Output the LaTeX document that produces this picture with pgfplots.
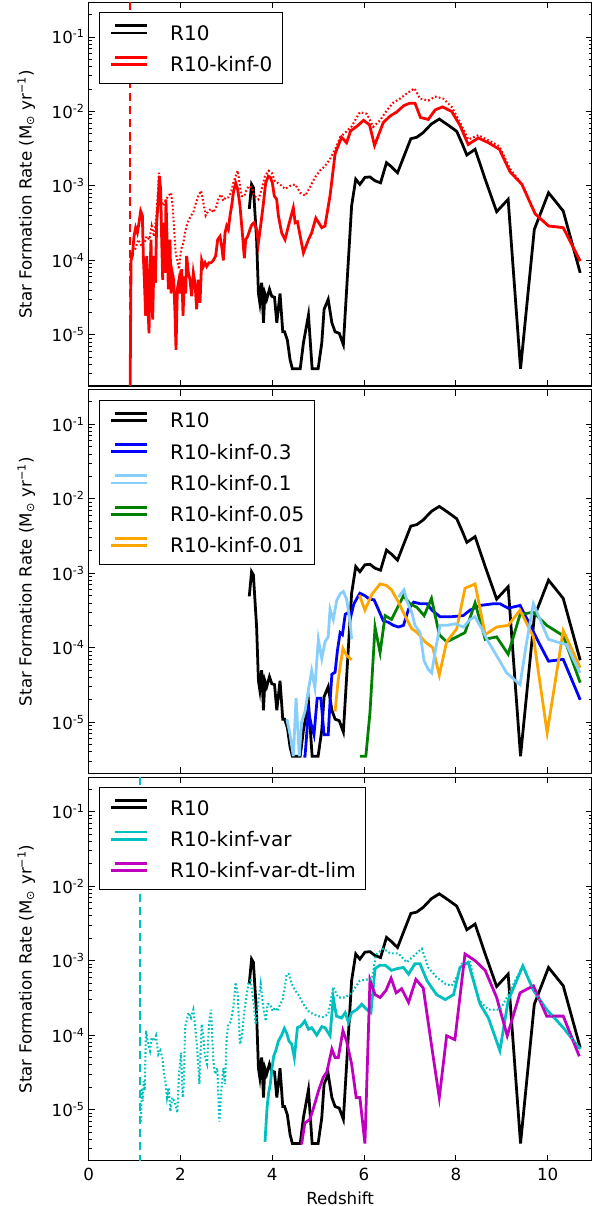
\documentclass[border=0pt]{standalone}
\usepackage{fontspec}
\setmainfont{DejaVu Sans}
\usepackage{pgfplots}
\pgfplotsset{compat=1.18}
\definecolor{lblue}{RGB}{135,206,250}
\definecolor{mgreen}{RGB}{0,128,0}
\definecolor{morange}{RGB}{255,165,0}
\definecolor{mcyan}{RGB}{0,191,191}
\definecolor{mmag}{RGB}{191,0,191}
\tikzset{
 sl/.style={line width=2pt},
 dl/.style={line width=1.5pt, dash pattern=on 1.2pt off 1.6pt},
 vl/.style={line width=2pt, dash pattern=on 6pt off 3.4pt},
}
\pgfplotsset{
 every axis/.append style={
  scale only axis, width=362.2pt, height=276.1pt,
  xmin=0, xmax=10.96, ymin=2.06e-6, ymax=0.29,
  xtick={0,2,4,6,8,10},
  ytick={1e-5,1e-4,1e-3,1e-2,1e-1},
  yticklabels={10\textsuperscript{-5},10\textsuperscript{-4},10\textsuperscript{-3},10\textsuperscript{-2},10\textsuperscript{-1}},
  minor ytick={3e-6,4e-6,5e-6,6e-6,7e-6,8e-6,9e-6,
   2e-5,3e-5,4e-5,5e-5,6e-5,7e-5,8e-5,9e-5,
   2e-4,3e-4,4e-4,5e-4,6e-4,7e-4,8e-4,9e-4,
   2e-3,3e-3,4e-3,5e-3,6e-3,7e-3,8e-3,9e-3,
   2e-2,3e-2,4e-2,5e-2,6e-2,7e-2,8e-2,9e-2,2e-1},
  tick align=inside,
  major tick length=4.3pt, minor tick length=2.2pt,
  every tick/.style={black, line width=0.6pt},
  axis line style={line width=0.8pt},
  ticklabel style={font=\fontsize{12}{14}\selectfont},
  yticklabel style={inner sep=0pt, anchor=east, xshift=-2.6pt},
  xticklabel style={inner sep=0pt, anchor=north, yshift=-5.3pt},
  ylabel={Star Formation Rate (M\textsubscript{⊙} yr\textsuperscript{−1})},
  ylabel style={font=\fontsize{12}{14}\selectfont, at={(axis description cs:-0.142,0.5)}, anchor=north, inner sep=0pt},
  legend cell align=left,
  legend style={at={(axis description cs:0,1)}, anchor=north west, xshift=7.5pt, yshift=-7pt,
   draw=black, line width=0.8pt, fill=white, inner xsep=7.2pt, inner ysep=8.4pt,
   row sep=11.1pt, column sep=15.8pt,
   font=\fontsize{14.4}{17}\selectfont,
   nodes={inner sep=0pt, text height=10.5pt, text depth=0pt}},
  legend image code/.code={\path (0pt,0pt) -- (25.8pt,0pt); \draw[##1] (2.8pt,5.2pt) -- (25.8pt,5.2pt);},
 },
}
\begin{document}
\begin{tikzpicture}
% ---------------- panel 1 ----------------
\begin{semilogyaxis}[at={(0pt,557.8pt)}, anchor=south west, xticklabels={}]
\addplot[black, sl] coordinates {
(3.50,4.9e-4)(3.55,1.05e-3)(3.59,9.5e-4)(3.66,1.9e-4)(3.70,3.6e-5)(3.73,2.7e-5)(3.77,5.0e-5)(3.81,1.45e-5)
(3.84,3.6e-5)(3.88,3.0e-5)(3.94,4.1e-5)(3.99,3.3e-5)(4.05,3.2e-5)(4.10,1.45e-5)(4.17,3.6e-5)(4.23,1.1e-5)
(4.27,1.1e-5)(4.33,8.5e-6)(4.39,4.6e-6)(4.44,3.5e-6)(4.53,3.5e-6)(4.61,3.5e-6)(4.68,7.8e-6)(4.79,1.85e-5)
(4.87,3.5e-6)(5.00,3.5e-6)(5.08,7.8e-6)(5.13,2.2e-5)(5.22,3.0e-5)(5.30,1.45e-5)(5.37,1.1e-5)(5.46,1.05e-5)
(5.55,7.4e-6)(5.73,5.4e-4)(5.82,1.23e-3)(5.91,1.05e-3)(6.02,1.3e-3)(6.13,1.32e-3)(6.24,1.17e-3)(6.36,1.1e-3)
(6.49,2.05e-3)(6.60,1.8e-3)(6.73,1.5e-3)(6.87,2.5e-3)(7.02,4.3e-3)(7.15,4.5e-3)(7.29,5.2e-3)(7.47,6.8e-3)
(7.64,7.9e-3)(7.84,6.5e-3)(8.02,5.4e-3)(8.13,3.8e-3)(8.24,2.6e-3)(8.42,3.1e-3)(8.64,1.23e-3)(8.89,4.5e-4)
(9.14,6.6e-4)(9.41,3.5e-6)(9.71,2.6e-4)(10.02,8.1e-4)(10.34,4.6e-4)(10.71,6.8e-5)};
\addlegendentry{R10}
\addplot[red, sl] coordinates {
(0.902,1e-6)(0.924,1.0e-4)(0.953,1.15e-4)(0.989,2.1e-4)(1.025,2.75e-4)(1.062,2.35e-4)(1.098,3.2e-4)(1.134,4.6e-4)
(1.171,4.0e-4)(1.192,1.15e-4)(1.214,5.5e-5)(1.243,1.8e-5)(1.265,1.15e-4)(1.287,3.0e-5)(1.316,1.05e-5)(1.338,6.8e-5)
(1.359,1.9e-4)(1.396,1.6e-5)(1.425,1.15e-4)(1.454,5.0e-5)(1.483,3.2e-4)(1.519,6.6e-4)(1.541,1.35e-3)(1.570,9.0e-4)
(1.592,1.9e-4)(1.614,5.5e-5)(1.643,3.2e-4)(1.664,6.8e-5)(1.686,6.6e-4)(1.715,1.4e-4)(1.737,4.1e-5)(1.773,1.9e-4)
(1.795,3.6e-5)(1.824,6.8e-5)(1.853,5.5e-5)(1.882,1.95e-5)(1.904,6.3e-6)(1.933,4.1e-5)(1.969,5.5e-5)(1.998,3.6e-5)
(2.028,7.6e-5)(2.057,1.8e-5)(2.086,6.1e-5)(2.115,3.6e-5)(2.136,1.15e-4)(2.173,6.8e-5)(2.209,5.5e-5)(2.245,3.3e-5)
(2.282,6.8e-5)(2.318,5.0e-5)(2.354,2.2e-5)(2.391,5.5e-5)(2.427,2.7e-5)(2.463,1.0e-4)(2.500,8.3e-5)(2.536,9.3e-5)
(2.572,8.3e-5)(2.623,9.3e-5)(2.667,9.3e-5)(2.717,1.0e-4)(2.768,1.15e-4)(2.812,1.9e-4)(2.863,2.1e-4)(2.899,1.55e-4)
(2.935,1.0e-4)(2.972,2.35e-4)(3.008,2.9e-4)(3.044,2.6e-4)(3.081,4.0e-4)(3.117,5.4e-4)(3.153,8.1e-4)(3.204,1.1e-3)
(3.248,9.0e-4)(3.298,5.4e-4)(3.349,2.35e-4)(3.393,1.07e-4)(3.422,1.9e-4)(3.465,2.1e-4)(3.516,2.6e-4)(3.553,3.0e-4)
(3.603,3.2e-4)(3.661,2.6e-4)(3.698,1.7e-4)(3.756,3.2e-4)(3.807,5.7e-4)(3.858,1.1e-3)(3.916,1.35e-3)(3.959,1.3e-3)
(4.003,1.1e-3)(4.046,7.3e-4)(4.097,6.6e-4)(4.134,4.0e-4)(4.206,2.35e-4)(4.279,1.9e-4)(4.36,3.0e-4)(4.46,5.1e-4)
(4.50,3.2e-4)(4.55,3.3e-4)(4.68,1.26e-4)(4.79,1.9e-4)(4.86,2.35e-4)(4.95,3.7e-4)(5.08,2.75e-4)(5.15,2.9e-4)
(5.26,7.4e-4)(5.37,2.7e-3)(5.51,4.5e-3)(5.62,3.8e-3)(5.71,5.5e-3)(5.83,6.2e-3)(5.99,7.6e-3)(6.12,6.6e-3)
(6.23,3.5e-3)(6.42,7.1e-3)(6.57,8.7e-3)(6.71,9.8e-3)(6.87,1.2e-2)(7.00,1.29e-2)(7.11,1.29e-2)(7.23,8.3e-3)
(7.40,7.8e-3)(7.55,1.05e-2)(7.71,1.15e-2)(7.91,1.0e-2)(8.09,6.5e-3)(8.27,3.6e-3)(8.49,4.4e-3)(8.71,3.8e-3)
(8.95,3.1e-3)(9.18,1.55e-3)(9.44,1.05e-3)(9.73,4.2e-4)(10.02,2.9e-4)(10.34,2.75e-4)(10.71,9.8e-5)};
\addlegendentry{R10-kinf-0}
\addplot[red, dl, forget plot] coordinates {
(1.011,1.4e-4)(1.084,1.9e-4)(1.156,1.55e-4)(1.214,1.7e-4)(1.265,2.1e-4)(1.323,1.9e-4)(1.374,2.9e-4)(1.425,2.1e-4)
(1.483,4.4e-4)(1.534,1.5e-3)(1.577,6.6e-4)(1.628,5.4e-4)(1.686,6.6e-4)(1.737,7.3e-4)(1.795,8.1e-4)(1.831,5.4e-4)
(1.868,2.35e-4)(1.897,1.25e-4)(1.933,1.0e-4)(1.969,7.6e-5)(2.013,1.4e-4)(2.064,1.7e-4)(2.100,2.35e-4)(2.136,2.9e-4)
(2.187,3.55e-4)(2.231,4.0e-4)(2.282,4.4e-4)(2.318,5.4e-4)(2.391,7.3e-4)(2.449,8.6e-4)(2.500,6.0e-4)(2.550,4.0e-4)
(2.608,4.6e-4)(2.667,4.9e-4)(2.717,4.4e-4)(2.790,5.4e-4)(2.826,6.6e-4)(2.884,7.7e-4)(2.935,6.3e-4)(2.986,7.0e-4)
(3.044,7.0e-4)(3.102,8.1e-4)(3.153,1.1e-3)(3.204,1.35e-3)(3.248,1.6e-3)(3.298,1.0e-3)(3.335,7.3e-4)(3.393,7.3e-4)
(3.444,9.0e-4)(3.495,1.0e-3)(3.553,9.5e-4)(3.611,7.3e-4)(3.70,6.6e-4)(3.77,9.0e-4)(3.84,1.35e-3)(3.92,1.6e-3)
(3.99,1.5e-3)(4.06,1.15e-3)(4.17,1.05e-3)(4.28,9.1e-4)(4.39,1.0e-3)(4.50,1.05e-3)(4.61,8.1e-4)(4.72,7.4e-4)
(4.82,9.5e-4)(4.93,1.3e-3)(5.04,1.6e-3)(5.15,1.85e-3)(5.26,2.3e-3)(5.37,3.1e-3)(5.48,4.5e-3)(5.59,5.2e-3)
(5.73,6.3e-3)(5.91,9.8e-3)(6.06,9.3e-3)(6.20,6.2e-3)(6.35,7.6e-3)(6.49,1.02e-2)(6.63,1.3e-2)(6.78,1.48e-2)
(6.93,1.74e-2)(7.10,2.04e-2)(7.22,1.48e-2)(7.40,1.4e-2)(7.55,1.58e-2)(7.73,1.48e-2)(7.91,1.15e-2)(8.09,7.2e-3)
(8.27,4.2e-3)(8.49,4.8e-3)(8.71,4.1e-3)(8.95,3.4e-3)(9.18,1.7e-3)(9.44,1.05e-3)(9.73,4.2e-4)(10.02,2.9e-4)
(10.34,2.75e-4)(10.71,9.8e-5)};
\addplot[red, vl, forget plot] coordinates {(0.90,1) (0.90,1e-7)};
\end{semilogyaxis}
% ---------------- panel 2 ----------------
\begin{semilogyaxis}[at={(0pt,278.9pt)}, anchor=south west, xticklabels={}]
\addplot[black, sl] coordinates {
(3.50,4.9e-4)(3.55,1.05e-3)(3.59,9.5e-4)(3.66,1.9e-4)(3.70,3.6e-5)(3.73,2.7e-5)(3.77,5.0e-5)(3.81,1.45e-5)
(3.84,3.6e-5)(3.88,3.0e-5)(3.94,4.1e-5)(3.99,3.3e-5)(4.05,3.2e-5)(4.10,1.45e-5)(4.17,3.6e-5)(4.23,1.1e-5)
(4.27,1.1e-5)(4.33,8.5e-6)(4.39,4.6e-6)(4.44,3.5e-6)(4.53,3.5e-6)(4.61,3.5e-6)(4.68,7.8e-6)(4.79,1.85e-5)
(4.87,3.5e-6)(5.00,3.5e-6)(5.08,7.8e-6)(5.13,2.2e-5)(5.22,3.0e-5)(5.30,1.45e-5)(5.37,1.1e-5)(5.46,1.05e-5)
(5.55,7.4e-6)(5.73,5.4e-4)(5.82,1.23e-3)(5.91,1.05e-3)(6.02,1.3e-3)(6.13,1.32e-3)(6.24,1.17e-3)(6.36,1.1e-3)
(6.49,2.05e-3)(6.60,1.8e-3)(6.73,1.5e-3)(6.87,2.5e-3)(7.02,4.3e-3)(7.15,4.5e-3)(7.29,5.2e-3)(7.47,6.8e-3)
(7.64,7.9e-3)(7.84,6.5e-3)(8.02,5.4e-3)(8.13,3.8e-3)(8.24,2.6e-3)(8.42,3.1e-3)(8.64,1.23e-3)(8.89,4.5e-4)
(9.14,6.6e-4)(9.41,3.5e-6)(9.71,2.6e-4)(10.02,8.1e-4)(10.34,4.6e-4)(10.71,6.8e-5)};
\addlegendentry{R10}
\addplot[blue, sl] coordinates {
(4.68,3.5e-6)(4.715,3.5e-6)(4.79,1.4e-5)(4.85,9.3e-6)(4.91,6.8e-6)(4.98,2.1e-5)(5.06,2.1e-5)(5.13,6.8e-6)
(5.22,6.8e-6)(5.26,1.9e-5)(5.30,4.4e-5)(5.37,4.7e-5)(5.42,9.1e-5)(5.48,1.6e-4)(5.53,1.5e-4)(5.59,2.8e-4)
(5.66,3.0e-4)(5.71,2.6e-4)(5.78,3.9e-4)(5.91,5.4e-4)(6.02,5.0e-4)(6.12,4.5e-4)(6.22,4.4e-4)(6.31,3.3e-4)
(6.42,2.3e-4)(6.53,2.2e-4)(6.64,2.0e-4)(6.75,1.9e-4)(6.86,2.0e-4)(6.97,3.3e-4)(7.08,4.1e-4)(7.22,3.9e-4)
(7.37,3.9e-4)(7.48,3.2e-4)(7.66,2.6e-4)(7.87,2.6e-4)(8.16,2.7e-4)(8.31,3.2e-4)(8.53,3.7e-4)(8.82,3.9e-4)
(8.96,3.9e-4)(9.14,3.4e-4)(9.40,3.7e-4)(9.62,2.0e-4)(9.80,1.2e-4)(10.02,6.6e-5)(10.34,7.0e-5)(10.71,2.0e-5)};
\addlegendentry{R10-kinf-0.3}
\addplot[lblue, sl] coordinates {
(4.32,1.1e-5)(4.39,6.8e-6)(4.46,3.5e-6)(4.52,2.1e-5)(4.59,3.5e-6)(4.64,1.0e-5)(4.715,1.4e-5)(4.79,2.75e-5)
(4.86,4.9e-5)(4.93,2.9e-5)(5.005,1.3e-4)(5.08,7.1e-5)(5.15,1.2e-4)(5.22,1.4e-4)(5.26,3.3e-4)(5.33,2.4e-4)
(5.405,4.3e-4)(5.48,5.3e-4)(5.55,5.7e-4)(5.62,4.5e-4)(5.695,2.3e-4)(5.73,1.3e-4)};
\addlegendentry{R10-kinf-0.1}
\addplot[mgreen, sl] coordinates {
(5.91,3.5e-6)(6.04,3.5e-6)(6.13,1.35e-5)(6.24,1.9e-4)(6.35,8.6e-5)(6.46,2.7e-4)(6.60,2.4e-4)(6.86,5.0e-4)
(7.00,3.9e-4)(7.15,3.5e-4)(7.31,2.7e-4)(7.47,4.6e-4)(7.64,1.5e-4)(7.80,1.2e-4)(8.02,1.4e-4)(8.20,1.6e-4)
(8.42,4.0e-4)(8.64,1.3e-4)(8.89,1.4e-4)(9.14,8.2e-5)(9.40,2.8e-4)(9.69,3.0e-4)(9.98,2.0e-4)(10.34,1.45e-4)
(10.71,3.4e-5)};
\addlegendentry{R10-kinf-0.05}
\addplot[morange, sl] coordinates {
(5.37,1.4e-5)(5.44,3.8e-5)(5.54,9.8e-5)(5.62,7.9e-5)(5.73,6.9e-5)};
\addlegendentry{R10-kinf-0.01}
\addplot[morange, sl, forget plot] coordinates {
(5.90,5.1e-4)(6.02,3.2e-4)(6.17,5.2e-4)(6.35,7.2e-4)(6.48,6.9e-4)(6.60,6.0e-4)(6.75,4.1e-4)(6.89,2.7e-4)
(7.04,1.8e-4)(7.16,1.6e-4)(7.33,1.2e-4)(7.50,1.0e-4)(7.64,4.3e-5)(7.80,1.2e-4)(8.02,1.8e-4)(8.20,6.3e-4)
(8.42,7.2e-4)(8.64,1.5e-4)(8.89,1.9e-4)(9.14,2.0e-4)(9.40,3.2e-4)(9.69,1.4e-4)(9.99,7.2e-6)(10.34,1.7e-4)
(10.71,5.4e-5)};
\addplot[lblue, sl, forget plot] coordinates {
(6.75,4.8e-4)(6.872,6.0e-4)(6.944,4.1e-4)(7.039,3.0e-4)(7.111,2.0e-4)(7.220,1.6e-4)(7.308,6.7e-5)(7.402,5.1e-5)
(7.475,4.6e-5)(7.547,8.7e-5)(7.656,2.0e-4)(7.801,2.0e-4)(7.983,2.1e-4)(8.164,1.9e-4)(8.310,2.4e-4)(8.419,2.6e-4)
(8.564,1.8e-4)(8.709,1.2e-4)(8.891,7.8e-5)(9.108,4.6e-5)(9.399,3.2e-5)(9.544,1.2e-4)(9.689,3.9e-4)(9.835,2.4e-4)
(10.016,1.3e-4)(10.198,1.2e-4)(10.416,1.1e-4)(10.525,7.8e-5)(10.707,4.6e-5)};
\end{semilogyaxis}
% ---------------- panel 3 ----------------
\begin{semilogyaxis}[at={(0pt,0pt)}, anchor=south west,
  xticklabels={0,2,4,6,8,10},
  xlabel={Redshift},
  xlabel style={font=\fontsize{12}{14}\selectfont, at={(axis description cs:0.5,0)}, anchor=north, inner sep=0pt, yshift=-22pt}]
\addplot[black, sl] coordinates {
(3.50,4.9e-4)(3.55,1.05e-3)(3.59,9.5e-4)(3.66,1.9e-4)(3.70,3.6e-5)(3.73,2.7e-5)(3.77,5.0e-5)(3.81,1.45e-5)
(3.84,3.6e-5)(3.88,3.0e-5)(3.94,4.1e-5)(3.99,3.3e-5)(4.05,3.2e-5)(4.10,1.45e-5)(4.17,3.6e-5)(4.23,1.1e-5)
(4.27,1.1e-5)(4.33,8.5e-6)(4.39,4.6e-6)(4.44,3.5e-6)(4.53,3.5e-6)(4.61,3.5e-6)(4.68,7.8e-6)(4.79,1.85e-5)
(4.87,3.5e-6)(5.00,3.5e-6)(5.08,7.8e-6)(5.13,2.2e-5)(5.22,3.0e-5)(5.30,1.45e-5)(5.37,1.1e-5)(5.46,1.05e-5)
(5.55,7.4e-6)(5.73,5.4e-4)(5.82,1.23e-3)(5.91,1.05e-3)(6.02,1.3e-3)(6.13,1.32e-3)(6.24,1.17e-3)(6.36,1.1e-3)
(6.49,2.05e-3)(6.60,1.8e-3)(6.73,1.5e-3)(6.87,2.5e-3)(7.02,4.3e-3)(7.15,4.5e-3)(7.29,5.2e-3)(7.47,6.8e-3)
(7.64,7.9e-3)(7.84,6.5e-3)(8.02,5.4e-3)(8.13,3.8e-3)(8.24,2.6e-3)(8.42,3.1e-3)(8.64,1.23e-3)(8.89,4.5e-4)
(9.14,6.6e-4)(9.41,3.5e-6)(9.71,2.6e-4)(10.02,8.1e-4)(10.34,4.6e-4)(10.71,6.8e-5)};
\addlegendentry{R10}
\addplot[mcyan, sl] coordinates {
(3.843,3.7e-6)(3.887,1.05e-5)(3.923,1.7e-5)(3.959,2.2e-5)(3.996,3.6e-5)(4.032,5.2e-5)(4.075,6.1e-5)(4.134,8.3e-5)
(4.206,1.0e-4)(4.264,1.23e-4)(4.315,1.07e-4)(4.366,8.3e-5)(4.424,7.6e-5)(4.482,5.0e-5)(4.55,1.26e-4)(4.62,1.32e-4)
(4.71,1.55e-4)(4.79,1.2e-4)(4.86,1.26e-4)(4.97,1.0e-4)(5.08,1.3e-4)(5.15,1.26e-4)(5.26,9.8e-5)(5.33,3.2e-4)
(5.40,1.8e-4)(5.51,1.7e-4)(5.59,2.0e-4)(5.66,1.5e-4)(5.73,2.0e-4)(5.84,2.2e-4)(5.95,2.6e-4)(6.06,2.2e-4)
(6.15,2.0e-4)(6.24,7.8e-4)(6.35,8.7e-4)(6.46,8.7e-4)(6.60,7.4e-4)(6.71,7.8e-4)(6.86,8.1e-4)(6.97,6.6e-4)
(7.11,9.1e-4)(7.22,9.1e-4)(7.37,5.4e-4)(7.58,3.5e-4)(7.77,3.0e-4)(7.95,3.5e-4)(8.09,8.1e-4)(8.27,9.5e-4)
(8.53,2.6e-4)(8.71,1.7e-4)(8.96,6.2e-5)(9.14,2.9e-4)(9.46,8.5e-4)(9.69,4.0e-4)(9.98,2.2e-4)(10.34,1.26e-4)
(10.71,6.5e-5)};
\addlegendentry{R10-kinf-var}
\addplot[mmag, sl] coordinates {
(4.64,3.4e-6)(4.71,6.6e-6)(4.82,7.4e-6)(4.90,1.05e-5)(5.01,1.8e-5)(5.11,2.7e-5)(5.19,3.2e-5)(5.30,6.5e-5)
(5.37,5.0e-5)(5.44,5.0e-5)(5.54,1.15e-4)(5.62,8.3e-5)(5.73,4.1e-5)(5.83,1.45e-5)(5.91,1.45e-5)(6.02,3.5e-6)
(6.13,5.5e-4)(6.24,3.5e-4)(6.35,3.2e-4)(6.48,4.0e-4)(6.59,5.8e-4)(6.70,3.7e-4)(6.82,4.2e-4)(6.97,2.75e-4)
(7.13,5.6e-4)(7.29,4.3e-4)(7.50,5.5e-5)(7.64,1.45e-5)(7.80,9.8e-5)(7.98,8.7e-5)(8.20,1.23e-3)(8.42,1.0e-3)
(8.64,7.4e-4)(8.89,3.2e-4)(9.12,9.8e-5)(9.40,3.7e-4)(9.69,4.6e-4)(9.98,1.8e-4)(10.34,1.8e-4)(10.69,5.2e-5)};
\addlegendentry{R10-kinf-var-dt-lim}
\addplot[mcyan, dl, forget plot] coordinates {
(1.142,6.9e-6)(1.156,1.95e-5)(1.178,1.3e-5)(1.200,2.4e-5)(1.221,1.8e-5)(1.250,1.15e-4)(1.287,8.3e-5)(1.338,6.2e-5)
(1.374,9.3e-5)(1.425,8.3e-5)(1.468,9.8e-5)(1.519,5.5e-5)(1.563,6.2e-5)(1.606,5.0e-5)(1.643,3.0e-5)(1.672,2.4e-5)
(1.708,1.45e-5)(1.744,1.95e-5)(1.781,9.5e-6)(1.824,1.45e-5)(1.882,1.25e-5)(1.933,9.1e-6)(1.969,3.0e-5)(2.013,5.8e-5)
(2.049,1.45e-5)(2.078,2.4e-5)(2.100,1.26e-4)(2.136,1.55e-4)(2.173,2.0e-4)(2.231,1.7e-4)(2.282,2.2e-4)(2.318,1.4e-4)
(2.369,6.2e-5)(2.413,2.2e-5)(2.463,1.4e-4)(2.500,9.3e-5)(2.536,5.0e-5)(2.580,4.1e-5)(2.623,1.4e-4)(2.667,2.2e-4)
(2.717,4.5e-5)(2.754,3.0e-5)(2.804,3.6e-5)(2.848,6.9e-6)(2.884,1.6e-5)(2.935,3.6e-5)(2.972,2.2e-5)(3.008,9.3e-5)
(3.044,1.4e-4)(3.095,1.5e-4)(3.153,2.35e-4)(3.204,5.1e-4)(3.248,3.55e-4)(3.298,7.6e-5)(3.335,9.3e-5)(3.393,2.1e-4)
(3.444,3.55e-4)(3.480,4.9e-4)(3.531,5.4e-4)(3.589,2.9e-4)(3.640,1.4e-4)(3.698,2.9e-4)(3.749,4.9e-4)(3.807,2.35e-4)
(3.858,1.55e-4)(3.901,2.6e-4)(3.952,2.6e-4)(4.010,2.1e-4)(4.061,2.35e-4)(4.119,2.1e-4)(4.170,2.6e-4)(4.221,2.9e-4)
(4.264,4.0e-4)(4.315,6.6e-4)(4.366,6.6e-4)(4.424,4.9e-4)(4.497,4.0e-4)(4.57,3.5e-4)(4.68,2.6e-4)(4.79,2.1e-4)
(4.90,1.9e-4)(5.01,1.8e-4)(5.11,1.75e-4)(5.22,1.9e-4)(5.33,4.4e-4)(5.44,3.2e-4)(5.59,3.2e-4)(5.73,3.7e-4)
(5.91,5.4e-4)(6.09,5.6e-4)(6.17,5.6e-4)(6.26,1.2e-3)(6.42,1.45e-3)(6.57,1.25e-3)(6.75,1.25e-3)(6.93,9.5e-4)
(7.11,1.2e-3)(7.26,1.45e-3)(7.40,8.1e-4)(7.58,6.0e-4)(7.77,4.9e-4)(7.91,4.6e-4)(8.02,6.0e-4)(8.13,9.1e-4)
(8.31,9.5e-4)(8.49,3.0e-4)(8.71,2.2e-4)(8.96,2.2e-4)(9.14,3.4e-4)(9.30,5.5e-4)(9.46,8.5e-4)(9.69,4.0e-4)
(9.98,2.2e-4)(10.34,1.26e-4)(10.71,6.5e-5)};
\addplot[mcyan, vl, forget plot] coordinates {(1.12,1) (1.12,1e-7)};
\end{semilogyaxis}
\pgfresetboundingbox
\path[use as bounding box] (-63.8pt,-32.6pt) rectangle (368.2pt,835.7pt);
\end{tikzpicture}
\end{document}
